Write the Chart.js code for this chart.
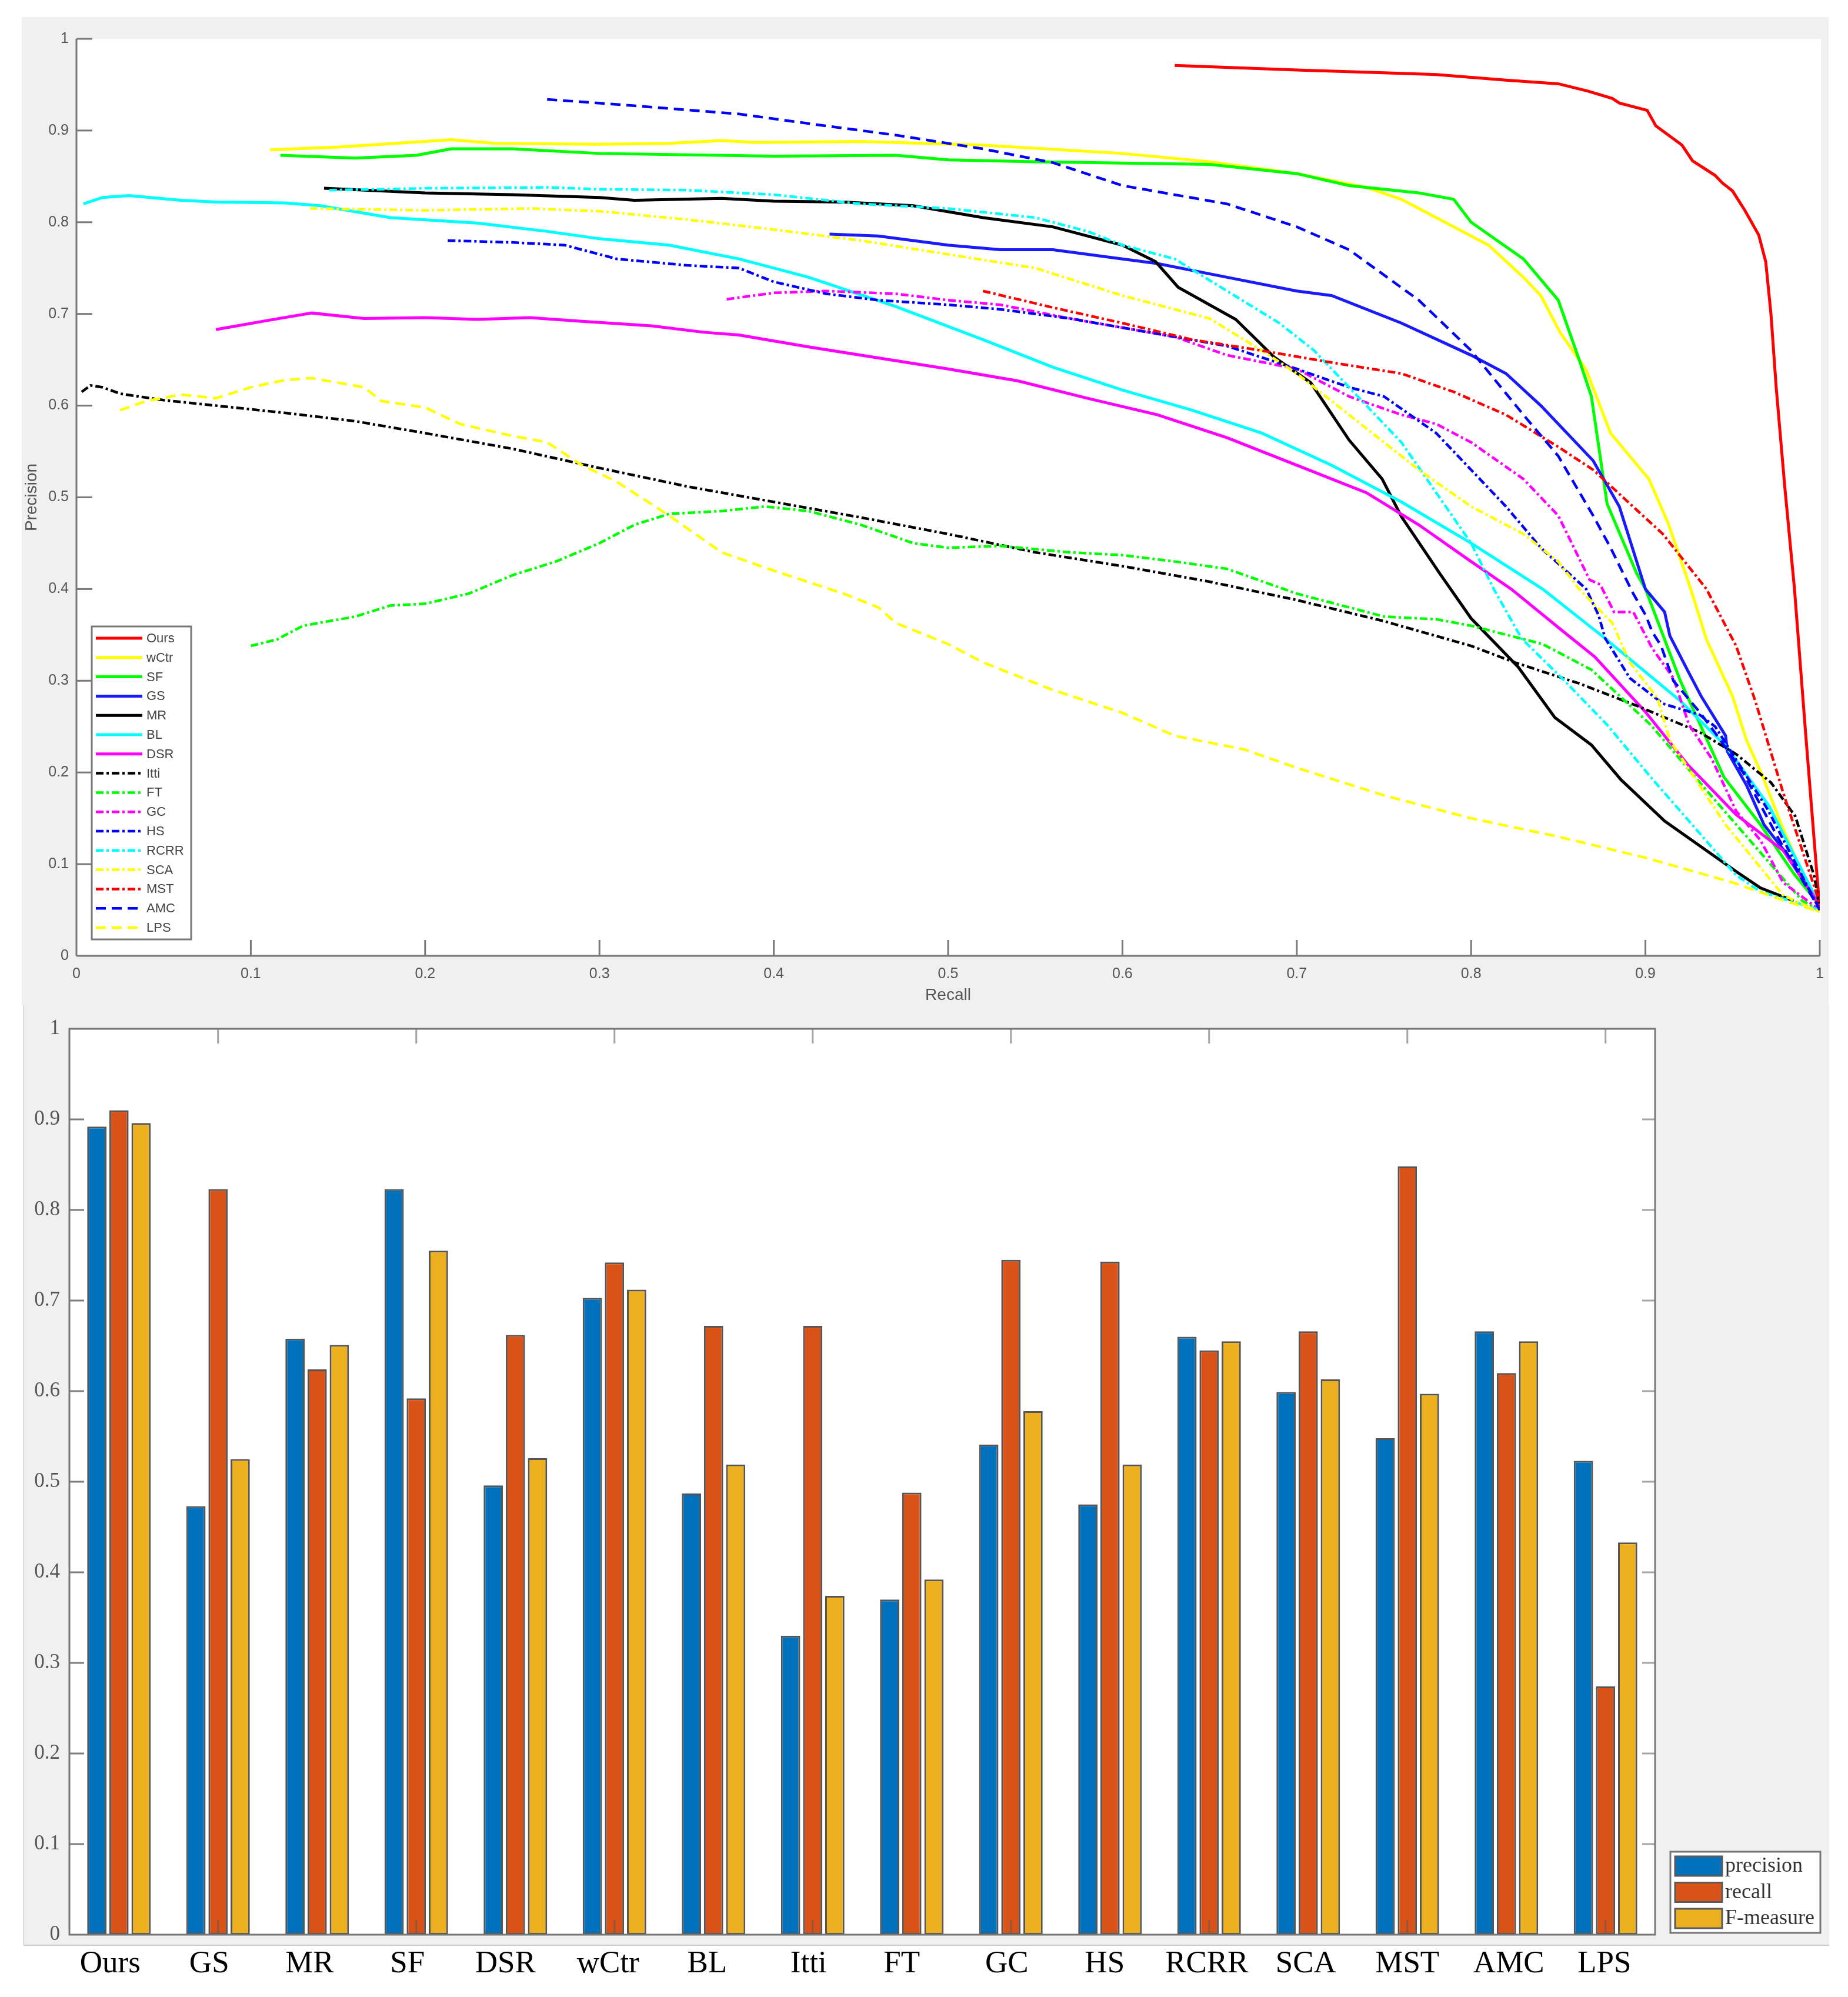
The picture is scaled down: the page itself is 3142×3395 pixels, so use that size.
<!DOCTYPE html>
<html><head><meta charset="utf-8">
<style>
html,body{margin:0;padding:0;background:#fff;width:3142px;height:3395px;overflow:hidden}
#p1{position:absolute;left:37px;top:29px;width:3072px;height:1680px;background:#f0f0f0}
#p2{position:absolute;left:40px;top:1709px;width:3069px;height:1597px;background:#f0f0f0;border-left:1px solid #b0b0b0;border-bottom:2px solid #c8c8c8}
canvas{position:absolute;filter:blur(0.7px)}
</style>
<script src="https://cdn.jsdelivr.net/npm/chart.js@4/dist/chart.umd.min.js"></script>
</head><body>
<div id="p1"></div><div id="p2"></div>
<canvas id="pr" width="3072" height="1680" style="left:37px;top:29px;width:3072px;height:1680px"></canvas>
<canvas id="bars" width="3072" height="1686" style="left:37px;top:1709px;width:3072px;height:1686px"></canvas>
<script>
const ours=[[.63,.971],[.70,.966],[.75,.963],[.78,.961],[.82,.955],[.85,.951],[.867,.943],[.881,.935],[.885,.93],[.901,.922],[.906,.905],[.921,.884],[.927,.867],[.94,.851],[.944,.843],[.95,.834],[.957,.813],[.965,.786],[.969,.757],[.972,.70],[.975,.62],[.98,.51],[.9855,.40],[.992,.24],[1,.05]];
const wCtr=[[.111,.879],[.15,.882],[.2,.888],[.215,.89],[.24,.886],[.3,.885],[.34,.886],[.37,.889],[.39,.887],[.45,.888],[.52,.884],[.6,.875],[.65,.866],[.7,.853],[.74,.838],[.76,.825],[.78,.805],[.81,.775],[.83,.74],[.84,.72],[.851,.68],[.866,.639],[.88,.57],[.902,.52],[.913,.472],[.926,.40],[.935,.345],[.95,.283],[.958,.235],[.967,.197],[.978,.143],[.99,.09],[1,.05]];
const sf=[[.117,.873],[.16,.87],[.195,.873],[.215,.88],[.25,.88],[.3,.875],[.4,.872],[.47,.873],[.5,.868],[.55,.866],[.65,.863],[.7,.853],[.73,.84],[.77,.832],[.79,.825],[.8,.80],[.815,.78],[.83,.76],[.85,.715],[.862,.65],[.869,.61],[.878,.493],[.895,.417],[.90,.40],[.92,.30],[.945,.195],[.966,.143],[.985,.09],[1,.055]];
const gs=[[.432,.787],[.46,.785],[.5,.775],[.53,.77],[.56,.77],[.6,.76],[.62,.755],[.66,.74],[.7,.725],[.72,.72],[.76,.69],[.8,.655],[.82,.635],[.84,.6],[.87,.54],[.885,.49],[.90,.40],[.911,.375],[.914,.349],[.924,.312],[.932,.283],[.946,.24],[.947,.223],[.958,.186],[.968,.143],[.982,.109],[1,.055]];
const mr=[[.142,.837],[.2,.832],[.25,.83],[.3,.827],[.32,.824],[.37,.826],[.4,.823],[.44,.822],[.48,.818],[.52,.805],[.56,.795],[.6,.775],[.619,.757],[.632,.729],[.665,.694],[.687,.653],[.708,.625],[.73,.5625],[.749,.52],[.76,.479],[.782,.417],[.80,.368],[.827,.315],[.848,.26],[.869,.23],[.886,.192],[.911,.147],[.952,.092],[.966,.074],[.985,.06]];
const bl=[[.004,.82],[.015,.827],[.03,.829],[.06,.824],[.08,.822],[.12,.821],[.14,.818],[.18,.805],[.23,.799],[.27,.79],[.3,.782],[.34,.775],[.38,.76],[.42,.74],[.47,.708],[.52,.672],[.56,.642],[.6,.617],[.64,.595],[.68,.57],[.72,.535],[.76,.495],[.8,.45],[.841,.40],[.875,.349],[.92,.278],[.946,.229],[.971,.163],[1,.055]];
const dsr=[[.08,.683],[.11,.693],[.135,.701],[.165,.695],[.2,.696],[.23,.694],[.26,.696],[.29,.692],[.33,.687],[.36,.68],[.38,.677],[.42,.664],[.46,.652],[.5,.64],[.54,.627],[.58,.608],[.62,.59],[.66,.565],[.7,.535],[.74,.505],[.77,.47],[.8,.43],[.823,.40],[.852,.355],[.871,.326],[.90,.266],[.924,.209],[.952,.154],[.979,.115],[1,.055]];
const itti=[[.003,.615],[.008,.622],[.015,.62],[.025,.613],[.05,.606],[.08,.6],[.12,.592],[.16,.583],[.2,.57],[.25,.553],[.3,.532],[.35,.512],[.4,.495],[.45,.478],[.5,.46],[.55,.44],[.6,.425],[.65,.408],[.7,.388],[.75,.365],[.8,.338],[.825,.32],[.862,.297],[.896,.272],[.931,.244],[.952,.22],[.972,.189],[.986,.152],[.997,.086],[1,.05]];
const ft=[[.10,.338],[.115,.345],[.13,.36],[.16,.37],[.18,.382],[.2,.384],[.225,.395],[.25,.415],[.275,.43],[.3,.45],[.32,.47],[.34,.482],[.37,.485],[.395,.49],[.42,.485],[.45,.47],[.48,.45],[.5,.445],[.53,.447],[.57,.44],[.6,.437],[.63,.43],[.66,.422],[.7,.395],[.75,.37],[.78,.367],[.80,.36],[.841,.34],[.869,.312],[.903,.252],[.938,.174],[.99,.06],[1,.05]];
const gc=[[.373,.716],[.4,.723],[.43,.725],[.47,.722],[.5,.715],[.53,.71],[.57,.695],[.6,.685],[.63,.675],[.66,.655],[.7,.64],[.73,.61],[.76,.59],[.78,.58],[.8,.56],[.83,.52],[.85,.48],[.868,.41],[.874,.405],[.882,.375],[.893,.375],[.904,.335],[.916,.303],[.925,.252],[.938,.215],[.952,.158],[.966,.126],[.979,.08],[1,.05]];
const hs=[[.213,.78],[.25,.778],[.28,.775],[.31,.76],[.35,.753],[.38,.75],[.4,.735],[.43,.722],[.46,.715],[.5,.71],[.53,.705],[.57,.695],[.6,.685],[.63,.675],[.66,.665],[.7,.64],[.73,.62],[.75,.61],[.78,.57],[.8,.53],[.82,.49],[.84,.445],[.866,.40],[.873,.372],[.877,.346],[.891,.303],[.91,.275],[.931,.263],[.94,.25],[.955,.205],[.97,.16],[.985,.105],[1,.05]];
const rcrr=[[.145,.835],[.2,.837],[.27,.838],[.3,.836],[.35,.835],[.4,.83],[.45,.82],[.5,.815],[.55,.805],[.58,.79],[.6,.775],[.63,.76],[.66,.725],[.69,.69],[.71,.66],[.73,.62],[.76,.56],[.78,.505],[.8,.45],[.813,.40],[.829,.346],[.852,.303],[.878,.252],[.903,.195],[.952,.088],[.966,.07],[1,.05]];
const sca=[[.134,.815],[.2,.813],[.26,.815],[.3,.812],[.35,.803],[.4,.792],[.45,.78],[.5,.765],[.55,.75],[.6,.72],[.65,.695],[.68,.66],[.7,.635],[.73,.59],[.77,.53],[.8,.49],[.83,.46],[.85,.43],[.862,.40],[.881,.363],[.891,.32],[.907,.281],[.914,.235],[.931,.186],[.946,.143],[.979,.066],[1,.048]];
const mst=[[.52,.725],[.56,.707],[.6,.69],[.64,.672],[.68,.66],[.72,.647],[.76,.635],[.79,.615],[.82,.59],[.85,.555],[.87,.53],[.89,.495],[.91,.46],[.935,.40],[.952,.338],[.963,.278],[.979,.178],[.999,.063],[1,.05]];
const amc=[[.27,.934],[.32,.927],[.38,.918],[.43,.905],[.47,.895],[.52,.88],[.56,.865],[.6,.84],[.66,.82],[.7,.795],[.73,.77],[.77,.715],[.8,.66],[.83,.59],[.85,.545],[.87,.48],[.88,.445],[.893,.395],[.90,.372],[.904,.353],[.909,.338],[.916,.30],[.931,.266],[.942,.238],[.956,.20],[.976,.129],[1,.05]];
const lps=[[.025,.595],[.04,.605],[.06,.612],[.08,.608],[.1,.62],[.12,.628],[.135,.63],[.15,.625],[.165,.62],[.175,.605],[.2,.598],[.22,.58],[.25,.567],[.27,.56],[.29,.535],[.31,.517],[.34,.48],[.37,.44],[.4,.42],[.44,.395],[.46,.38],[.47,.363],[.5,.34],[.52,.32],[.56,.29],[.6,.265],[.63,.24],[.67,.225],[.7,.205],[.75,.175],[.8,.15],[.85,.13],[.9,.107],[.95,.08],[.98,.06],[1,.048]];

const methods=['Ours','GS','MR','SF','DSR','wCtr','BL','Itti','FT','GC','HS','RCRR','SCA','MST','AMC','LPS'];
const precision=[.892,.473,.658,.823,.496,.703,.487,.33,.37,.541,.475,.66,.599,.548,.666,.523];
const recall=[.91,.823,.624,.592,.662,.742,.672,.672,.488,.745,.743,.645,.666,.848,.62,.274];
const fmeasure=[.896,.525,.651,.755,.526,.712,.519,.374,.392,.578,.519,.655,.613,.597,.655,.433];

const SOLID=[],DASHDOT=[13,5,4,5],DASHED=[17,10];
const curves=[
 ['Ours',ours,'#ff0000',SOLID],['wCtr',wCtr,'#ffff00',SOLID],['SF',sf,'#00ff00',SOLID],['GS',gs,'#1a1aff',SOLID],
 ['MR',mr,'#000000',SOLID],['BL',bl,'#00ffff',SOLID],['DSR',dsr,'#ff00ff',SOLID],['Itti',itti,'#000000',DASHDOT],
 ['FT',ft,'#00ff00',DASHDOT],['GC',gc,'#ff00ff',DASHDOT],['HS',hs,'#0000ff',DASHDOT],['RCRR',rcrr,'#00ffff',DASHDOT],
 ['SCA',sca,'#ffff00',DASHDOT],['MST',mst,'#ff0000',DASHDOT],['AMC',amc,'#0000ff',DASHED],['LPS',lps,'#ffff00',DASHED]];
const AX='#777777';
const sans='"Liberation Sans",Arial,sans-serif', serif='"Liberation Serif","Times New Roman",serif';
const tickText=v=>String(+Number(v).toFixed(1));
const noPad=s=>{s.paddingLeft=0;s.paddingRight=0;s.paddingTop=0;s.paddingBottom=0;};

function line(c,x1,y1,x2,y2){c.beginPath();c.moveTo(x1,y1);c.lineTo(x2,y2);c.stroke();}

const prFrame={id:'prFrame',
 beforeDraw(ch){const c=ch.ctx,a=ch.chartArea;c.save();c.fillStyle='#fff';c.fillRect(a.left,a.top,a.right-a.left+2,a.bottom-a.top);c.restore();},
 afterDraw(ch){const c=ch.ctx,a=ch.chartArea,xs=ch.scales.x,ys=ch.scales.y;c.save();
  c.strokeStyle=AX;c.lineWidth=3;
  line(c,a.left,a.top,a.left,a.bottom);line(c,a.left,a.bottom,a.right,a.bottom);
  xs.ticks.forEach((t,i)=>{const p=xs.getPixelForTick(i);if(i>0)line(c,p,a.bottom,p,a.bottom-27);});
  ys.ticks.forEach((t,i)=>{const p=ys.getPixelForTick(i);if(i>0)line(c,a.left,p,a.left+27,p);});
  const ox=37,oy=29,L=156-ox,T=1065-oy,R=325-ox,B=1597-oy;
  c.fillStyle='#fff';c.fillRect(L,T,R-L,B-T);c.strokeRect(L,T,R-L,B-T);
  c.font='22px '+sans;c.textBaseline='middle';c.textAlign='left';
  ch.data.datasets.forEach((d,i)=>{const y=1085-oy+i*32.8;
    c.strokeStyle=d.borderColor;c.lineWidth=d.borderWidth;c.setLineDash(d.borderDash);line(c,163-ox,y,242-ox,y);c.setLineDash([]);
    c.fillStyle='#444';c.fillText(d.label,249-ox,y+1);});
  c.restore();}};

new Chart(document.getElementById('pr'),{type:'line',plugins:[prFrame],
 data:{datasets:curves.map((s,i)=>({label:s[0],data:s[1].map(p=>({x:p[0],y:p[1]})),borderColor:s[2],backgroundColor:s[2],borderDash:s[3],borderWidth:s[3].length?4.5:5,pointRadius:0,tension:0,fill:false,order:curves.length-i}))},
 options:{responsive:false,animation:false,devicePixelRatio:1,layout:{padding:{top:37,right:15,left:0,bottom:0}},
  plugins:{legend:{display:false},tooltip:{enabled:false}},
  scales:{
   x:{type:'linear',min:0,max:1,afterFit(s){s.height=84;noPad(s);},grid:{display:false,drawTicks:false},border:{display:false},
      ticks:{stepSize:.1,padding:16,callback:tickText,font:{family:sans,size:25},color:'#555',maxRotation:0},
      title:{display:true,text:'Recall',font:{family:sans,size:28},color:'#555',padding:0}},
   y:{min:0,max:1,afterFit(s){s.width=93;noPad(s);},grid:{display:false,drawTicks:false},border:{display:false},
      ticks:{stepSize:.1,padding:13,callback:tickText,font:{family:sans,size:25},color:'#555'},
      title:{display:true,text:'Precision',font:{family:sans,size:28},color:'#555',padding:0}}}}});

// hand-placed category captions in the figure: shift of each caption from its tick
const captionShift=[-15,-15,-13,-15,-17,-11,-11,-7,-17,-7,-9,-4,-4,0,4,-2];
const barFrame={id:'barFrame',
 beforeDraw(ch){const c=ch.ctx,a=ch.chartArea;c.save();c.fillStyle='#fff';c.fillRect(a.left,a.top,a.right-a.left,a.bottom-a.top);c.restore();
  ch.scales.x.getLabelItems().forEach((it,i)=>{it.options.translation[0]+=captionShift[i];});},
 afterDatasetsDraw(ch){const c=ch.ctx,a=ch.chartArea,xs=ch.scales.x,ys=ch.scales.y;c.save();
  c.lineWidth=3;
  xs.ticks.forEach((t,i)=>{if(i%2===1){const p=xs.getPixelForTick(i);
    c.strokeStyle='rgba(90,90,90,.55)';line(c,p,a.top,p,a.top+25);line(c,p,a.bottom,p,a.bottom-25);}});
  ys.ticks.forEach((t,i)=>{if(i>0&&i<ys.ticks.length-1){const p=ys.getPixelForTick(i);
    c.strokeStyle='rgba(90,90,90,.8)';line(c,a.left,p,a.left+25,p);
    c.strokeStyle='rgba(90,90,90,.55)';line(c,a.right,p,a.right-22,p);}});
  c.strokeStyle=AX;c.strokeRect(a.left,a.top,a.right-a.left,a.bottom-a.top);
  const ox=37,oy=1709;
  c.fillStyle='#fff';c.fillRect(2840-ox,3148-oy,255,138);c.strokeStyle=AX;c.lineWidth=3;c.strokeRect(2840-ox,3148-oy,255,138);
  c.font='36px '+serif;c.textBaseline='middle';c.textAlign='left';
  ch.data.datasets.forEach((d,i)=>{const y=3156-oy+i*44.5;
    c.fillStyle=d.backgroundColor;c.fillRect(2848-ox,y,80,33);c.strokeStyle='#5a5a5a';c.lineWidth=3;c.strokeRect(2848-ox,y,80,33);
    c.fillStyle='#333';c.fillText(d.label,2933-ox,y+17);});
  c.restore();}};

const barSeries=[['precision',precision,'#0072BD'],['recall',recall,'#D95319'],['F-measure',fmeasure,'#EDB120']];
new Chart(document.getElementById('bars'),{type:'bar',plugins:[barFrame],
 data:{labels:methods,datasets:barSeries.map(s=>({label:s[0],data:s[1],backgroundColor:s[2],borderColor:'#555555',borderWidth:3,borderSkipped:false,categoryPercentage:.67,barPercentage:.87}))},
 options:{responsive:false,animation:false,devicePixelRatio:1,layout:{padding:{top:40,right:295,left:0,bottom:0}},
  plugins:{legend:{display:false},tooltip:{enabled:false}},
  scales:{
   x:{afterFit(s){s.height=106;noPad(s);},grid:{display:false,drawTicks:false},border:{display:false},
      ticks:{autoSkip:false,maxRotation:0,minRotation:0,padding:18,font:{family:serif,size:53},color:'#000'}},
   y:{min:0,max:1,afterFit(s){s.width=81;noPad(s);},grid:{display:false,drawTicks:false},border:{display:false},
      ticks:{stepSize:.1,padding:16,callback:tickText,font:{family:serif,size:35},color:'#555'}}}}});
</script>
</body></html>
